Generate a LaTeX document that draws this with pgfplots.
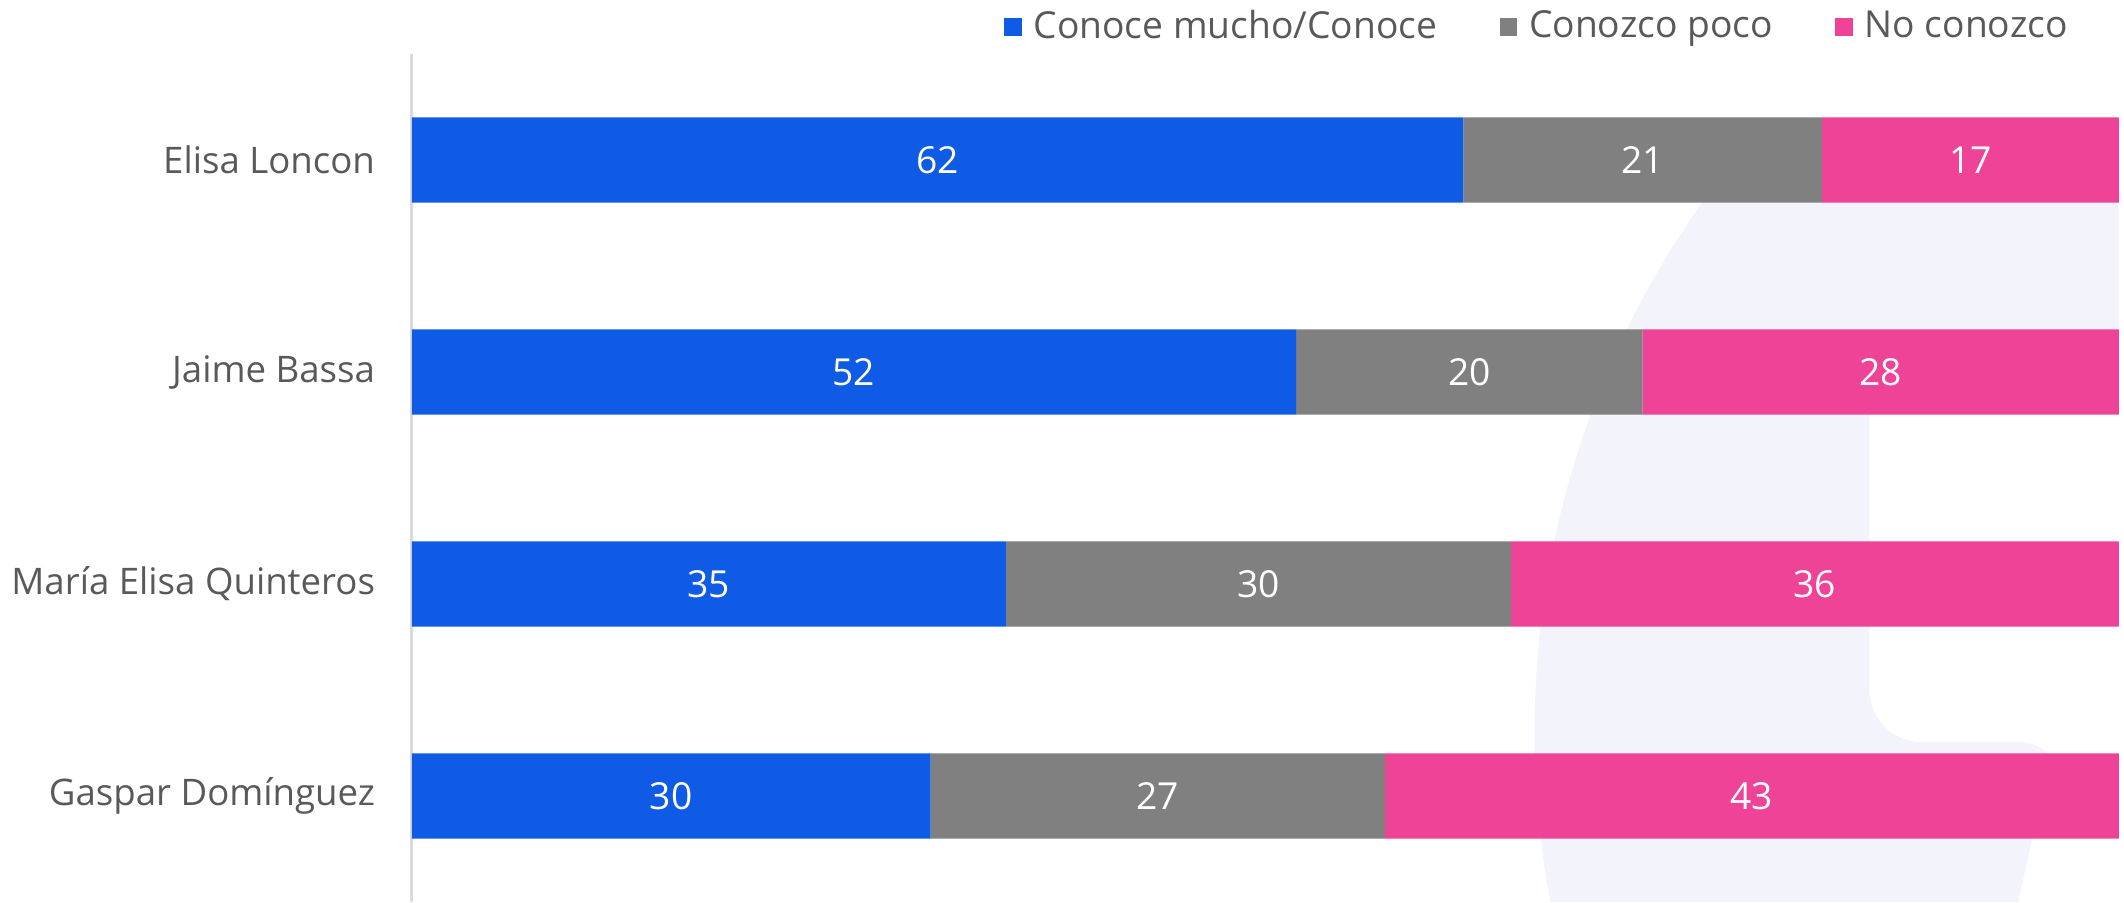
\documentclass[border=0pt]{standalone}
\usepackage{fontspec}
\setmainfont{Open Sans}
\usepackage{pgfplots}
\usepackage{pgfplotstable}
\pgfplotsset{compat=1.18}
\definecolor{cblue}{HTML}{105BE6}
\definecolor{cgray}{HTML}{808080}
\definecolor{cpink}{HTML}{EE4396}
\definecolor{txtgray}{HTML}{595959}
\definecolor{axgray}{HTML}{DADADA}
\definecolor{lav}{HTML}{F2F3FB}
\pgfplotstableread{
y a b c
0 61.6 21.0 17.4
1 51.8 20.3 27.9
2 34.8 29.6 35.6
3 30.4 26.6 43.0
}\data
\pgfplotsset{
  common/.style={
    at={(0,0)}, anchor=south west,
    width=426.75pt, height=212pt, scale only axis,
    xmin=0, xmax=100, ymin=-0.5, ymax=3.5,
    y dir=reverse,
  },
}
\begin{document}
\begin{tikzpicture}
\path[use as bounding box] (-102.95pt,0) rectangle (428.05pt,225.5pt);
% watermark
\begin{scope}
\clip (235.7pt,185.6pt) -- (426.7pt,185.6pt) -- (426.7pt,127.3pt) -- (364.4pt,127.3pt)
  [rounded corners=13pt] -- (364.4pt,40pt) -- (414.5pt,40pt) [sharp corners] -- (406pt,20pt) -- (401.6pt,0pt) -- (235.7pt,0pt) -- cycle;
\fill[lav] (510.3pt,42.7pt) circle (229.6pt);
\end{scope}
\begin{axis}[
  common,
  xbar stacked, bar width=21.3pt,
  axis x line=none,
  axis y line*=left,
  y axis line style={draw=axgray, line width=0.7pt, -},
  ytick={0,1,2,3},
  yticklabels={Elisa Loncon, Jaime Bassa, María Elisa Quinteros, Gaspar Domínguez},
  major tick length=0pt,
  ytick style={draw=none},
  yticklabel style={anchor=east, inner xsep=0pt, xshift=-9pt, text=txtgray, font=\fontsize{9.15}{11}\selectfont},
  legend columns=3,
  legend style={at={(0.9775,1.032)}, anchor=east, draw=none, fill=none, inner sep=0pt,
     font=\fontsize{9.3}{11}\selectfont, text=txtgray,
     /tikz/every even column/.append style={column sep=12.6pt},
     nodes={inner xsep=3pt, inner ysep=0pt}},
  legend image code/.code={\fill[#1, draw=none] (0pt,-2.2pt) rectangle (4.4pt,2.2pt);},
]
\addplot[fill=cblue, draw=none] table[x=a, y=y] {\data};
\addplot[fill=cgray, draw=none] table[x=b, y=y] {\data};
\addplot[fill=cpink, draw=none] table[x=c, y=y] {\data};
\legend{Conoce mucho/Conoce, Conozco poco, No conozco}
\end{axis}
\begin{axis}[
  common,
  hide axis,
  /pgf/number format/assume math mode=true,
  point meta=explicit,
  nodes near coords={\pgfmathprintnumber[fixed,precision=0]{\pgfplotspointmeta}},
  every node near coord/.append style={anchor=center, text=white, font=\fontsize{9.3}{11}\selectfont},
]
\addplot[only marks, mark=none] table[x expr=\thisrow{a}/2, y=y, meta=a] {\data};
\addplot[only marks, mark=none] table[x expr=\thisrow{a}+\thisrow{b}/2, y=y, meta=b] {\data};
\addplot[only marks, mark=none] table[x expr=\thisrow{a}+\thisrow{b}+\thisrow{c}/2, y=y, meta=c] {\data};
\end{axis}
\end{tikzpicture}
\end{document}
